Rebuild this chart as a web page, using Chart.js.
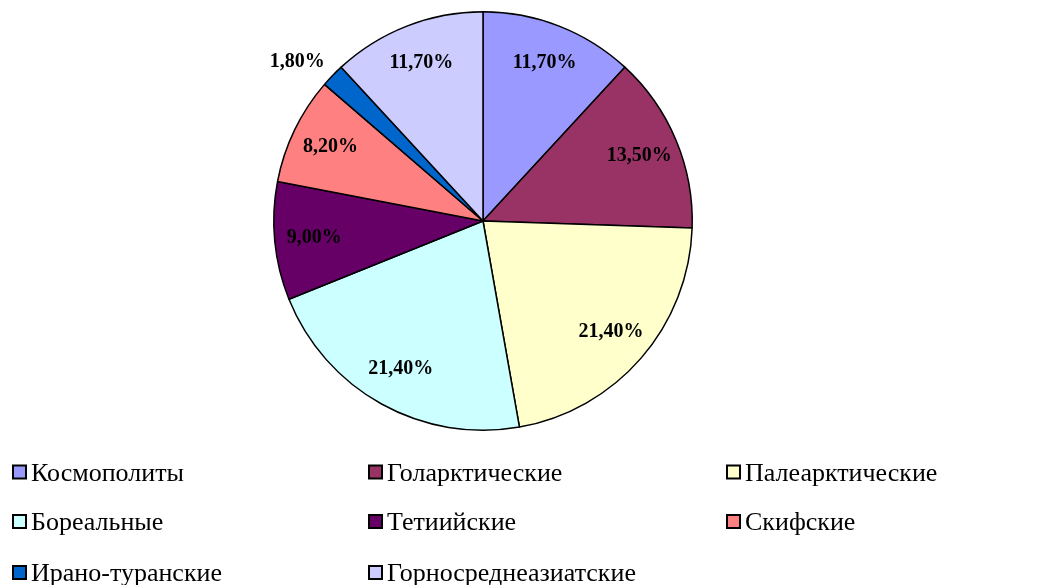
<!DOCTYPE html>
<html>
<head>
<meta charset="utf-8">
<script src="https://cdn.jsdelivr.net/npm/chart.js@4/dist/chart.umd.min.js"></script>
<style>
  html, body { margin: 0; padding: 0; background: #fff; overflow: hidden; }
  #wrap { width: 1055px; height: 585px; position: relative; }
  canvas { display: block; }
</style>
</head>
<body>
<div id="wrap"><canvas id="c" width="1055" height="585"></canvas></div>
<script>
const labels = ['Космополиты', 'Голарктические', 'Палеарктические', 'Бореальные',
  'Тетиийские', 'Скифские', 'Ирано-туранские', 'Горносреднеазиатские']
const values = [11.7, 13.5, 21.4, 21.4, 9.0, 8.2, 1.8, 11.7]
const colors = ['#9999FF', '#993366', '#FFFFCC', '#CCFFFF', '#660066', '#FF8080', '#0066CC', '#CCCCFF']

const serif = '"Liberation Serif", "Times New Roman", serif'

// percent labels on the slices, small ones go outside
const sliceLabels = {
  id: 'sliceLabels',
  afterDatasetsDraw: function (chart) {
    const ctx = chart.ctx
    const meta = chart.getDatasetMeta(0)
    ctx.save()
    ctx.font = 'bold 20px ' + serif
    ctx.fillStyle = '#000'
    ctx.textAlign = 'center'
    ctx.textBaseline = 'middle'
    meta.data.forEach((arc, i) => {
      const p = arc.getProps(['x', 'y', 'startAngle', 'endAngle', 'outerRadius'], true)
      const mid = (p.startAngle + p.endAngle) / 2
      let r = p.outerRadius * 0.81
      let a = mid
      if (values[i] < 3) { r = p.outerRadius * 1.17; a = mid - 0.06 }
      const txt = values[i].toFixed(2).replace('.', ',') + '%'
      ctx.fillText(txt, p.x + Math.cos(a) * r, p.y + Math.sin(a) * r)
    })
    ctx.restore()
  }
}

// three-column legend under the pie
const gridLegend = {
  id: 'gridLegend',
  afterDraw: function (chart) {
    const ctx = chart.ctx
    const colX = [13, 369, 727]
    const rowY = [471.5, 521, 572]
    ctx.save()
    ctx.font = '26px ' + serif
    ctx.textBaseline = 'alphabetic'
    ctx.textAlign = 'left'
    chart.data.labels.forEach((lab, i) => {
      const x = colX[i % 3]
      const y = rowY[Math.floor(i / 3)]
      ctx.fillStyle = chart.data.datasets[0].backgroundColor[i]
      ctx.fillRect(x, y - 6, 13, 13)
      ctx.strokeStyle = '#000'
      ctx.lineWidth = 2
      ctx.strokeRect(x, y - 6, 13, 13)
      ctx.fillStyle = '#000'
      ctx.fillText(lab, x + 18, y + 9)
    })
    ctx.restore()
  }
}

new Chart(document.getElementById('c').getContext('2d'), {
  type: 'pie',
  data: {
    labels: labels,
    datasets: [{
      data: values,
      backgroundColor: colors,
      borderColor: '#000',
      borderWidth: 1.5
    }]
  },
  options: {
    responsive: false,
    animation: false,
    layout: { padding: { top: 11, bottom: 154, left: 0, right: 89 } },
    plugins: {
      legend: { display: false },
      tooltip: { enabled: false }
    }
  },
  plugins: [sliceLabels, gridLegend]
})
</script>
</body>
</html>
